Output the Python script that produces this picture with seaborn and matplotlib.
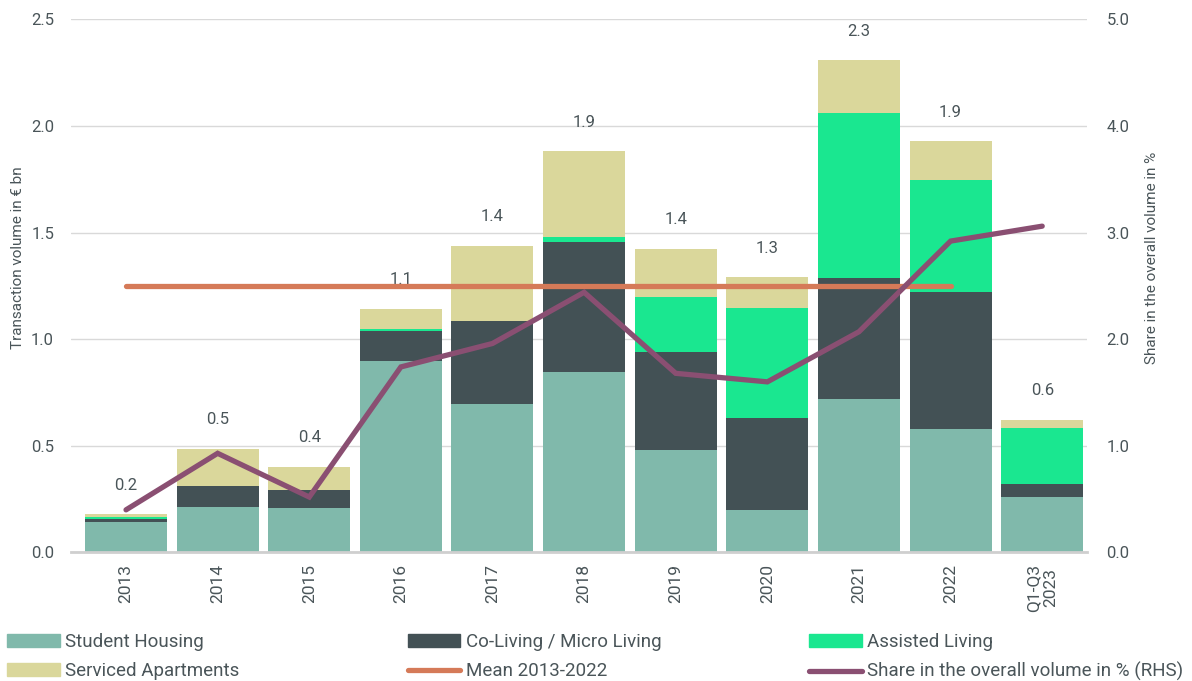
import numpy as np
import pandas as pd
import matplotlib
matplotlib.use("Agg")
import matplotlib.pyplot as plt
import seaborn as sns
from matplotlib.patches import Patch
from matplotlib.lines import Line2D
from matplotlib.ticker import FormatStrFormatter, MultipleLocator

# ---- data (transaction volume in EUR bn, share in %) ----
periods = ["2013", "2014", "2015", "2016", "2017", "2018", "2019",
           "2020", "2021", "2022", "Q1-Q3\n2023"]
student_housing = [0.142, 0.213, 0.207, 0.899, 0.695, 0.848, 0.479,
                   0.199, 0.718, 0.579, 0.260]
co_living = [0.013, 0.097, 0.084, 0.138, 0.390, 0.606, 0.462,
             0.433, 0.570, 0.641, 0.060]
assisted_living = [0.010, 0.000, 0.000, 0.011, 0.000, 0.025, 0.257,
                   0.514, 0.772, 0.528, 0.264]
serviced_apartments = [0.014, 0.177, 0.111, 0.093, 0.352, 0.402, 0.225,
                       0.144, 0.247, 0.180, 0.038]
share_pct = [0.40, 0.93, 0.52, 1.74, 1.96, 2.44, 1.68, 1.60, 2.07, 2.92, 3.06]
mean_period = ["2013", "2022"]

series_names = ["Student Housing", "Co-Living / Micro Living",
                "Assisted Living", "Serviced Apartments"]
colors = ["#80b9ab", "#435155", "#1ae790", "#dad79b"]
mean_color = "#d57a58"
share_color = "#8a4f72"
text_color = "#4a5559"

sns.set_theme(style="white")
plt.rcParams["font.family"] = ["Roboto", "DejaVu Sans"]
plt.rcParams["text.color"] = text_color
plt.rcParams["axes.labelcolor"] = text_color
plt.rcParams["xtick.color"] = text_color
plt.rcParams["ytick.color"] = text_color

df = pd.DataFrame({
    "period": periods,
    "Student Housing": student_housing,
    "Co-Living / Micro Living": co_living,
    "Assisted Living": assisted_living,
    "Serviced Apartments": serviced_apartments,
})
cum = df[series_names].cumsum(axis=1)
totals = cum[series_names[-1]].to_numpy()

fig = plt.figure(figsize=(11.92, 6.81), dpi=100)
ax = fig.add_axes([0.0593, 0.1887, 0.912 - 0.0593, 0.9717 - 0.1887])

# stacked bars: draw cumulative heights from the top layer down
for name, col in reversed(list(zip(series_names, colors))):
    sns.barplot(x=df["period"], y=cum[name], color=col, saturation=1,
                width=0.895, linewidth=0, ax=ax, zorder=2)

n = len(periods)
pos = np.arange(n)

# value labels above each bar
for i, t in enumerate(totals):
    ax.annotate(f"{t:.1f}", (i, t), xytext=(0, 21), textcoords="offset points",
                ha="center", va="center", fontsize=12, color=text_color,
                zorder=3)

# mean 2013-2022
i0, i1 = periods.index(mean_period[0]), periods.index(mean_period[1])
mean_val = totals[i0:i1 + 1].mean()
sns.lineplot(x=[i0, i1], y=[mean_val, mean_val], color=mean_color,
             linewidth=3.8, ax=ax, zorder=4, solid_capstyle="round")

ax.set_xlim(-0.604, n - 1 + 0.49)
ax.set_ylim(0, 2.5)
ax.yaxis.set_major_locator(MultipleLocator(0.5))
ax.yaxis.set_major_formatter(FormatStrFormatter("%.1f"))
ax.grid(axis="y", color="#d9d9d9", linewidth=1, zorder=0)
ax.set_axisbelow(True)
for s in ["top", "right", "left"]:
    ax.spines[s].set_visible(False)
ax.spines["bottom"].set_color("#cfcfcf")
ax.spines["bottom"].set_linewidth(2)
ax.tick_params(axis="y", length=0, pad=12, labelsize=12)
ax.tick_params(axis="x", length=0, pad=8, labelsize=12.5)
ax.set_xticks(pos)
ax.set_xticklabels(periods, rotation=90, va="top", ha="center")
for lbl in ax.get_xticklabels():
    lbl.set_multialignment("center")
ax.set_xlabel("")
ax.set_ylabel("Transaction volume in € bn", fontsize=11)
ax.yaxis.set_label_coords(-0.045, 0.552)

# share in overall volume on right-hand scale
ax2 = ax.twinx()
sns.lineplot(x=pos, y=share_pct, color=share_color, linewidth=3.8, ax=ax2,
             zorder=5, solid_joinstyle="miter")
ax2.set_ylim(0, 5)
ax2.yaxis.set_major_locator(MultipleLocator(1.0))
ax2.yaxis.set_major_formatter(FormatStrFormatter("%.1f"))
for s in ax2.spines.values():
    s.set_visible(False)
ax2.tick_params(axis="y", length=0, pad=14, labelsize=12)
ax2.set_ylabel("Share in the overall volume in %", fontsize=11)
ax2.yaxis.set_label_coords(1.057, 0.552)
ax2.grid(False)

# legend in three columns
leg_kw = dict(loc="upper left", frameon=False, fontsize=13.5, borderpad=0,
              borderaxespad=0, handlelength=2.8, handleheight=0.65,
              handletextpad=0.3, labelspacing=0.6)
col1 = [Patch(color=colors[0]), Patch(color=colors[3])]
col2 = [Patch(color=colors[1]),
        Line2D([], [], color=mean_color, lw=3.8, solid_capstyle="round")]
col3 = [Patch(color=colors[2]),
        Line2D([], [], color=share_color, lw=3.8, solid_capstyle="round")]
fig.legend(col1, ["Student Housing", "Serviced Apartments"],
           bbox_to_anchor=(0.006, 0.0705), **leg_kw)
fig.legend(col2, ["Co-Living / Micro Living", "Mean 2013-2022"],
           bbox_to_anchor=(0.342, 0.0705), **leg_kw)
fig.legend(col3, ["Assisted Living", "Share in the overall volume in % (RHS)"],
           bbox_to_anchor=(0.679, 0.0705), **leg_kw)

fig.savefig("out.png", dpi=100)
